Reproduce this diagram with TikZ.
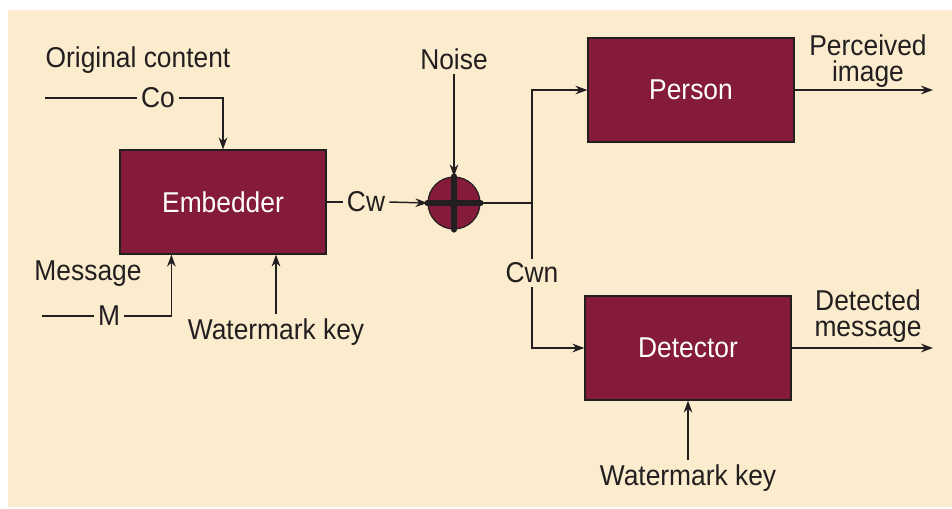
\documentclass[tikz,border=0pt]{standalone}
\usepackage{fontspec}
\setmainfont{Liberation Sans}[FakeStretch=0.92]
\usetikzlibrary{arrows.meta,positioning}
\definecolor{paperbeige}{RGB}{251,236,206}
\definecolor{boxmaroon}{RGB}{133,27,58}
\definecolor{inkdark}{RGB}{35,31,32}

\begin{document}
\begin{tikzpicture}[x=0.75pt, y=-0.75pt,
  blockbox/.style={draw=inkdark, line width=0.9pt, fill=boxmaroon, text=white,
    minimum width=154.5pt, minimum height=78pt, inner sep=0pt,
    font=\fontsize{21.5}{20}\selectfont},
  lbl/.style={text=inkdark, inner sep=3pt, font=\fontsize{21.5}{20}\selectfont},
  wire/.style={draw=inkdark, line width=1.1pt},
  feed/.style={wire, -{Stealth[length=9pt,width=6.5pt]}}]
% background
\fill[white] (0,0) rectangle (952,508);
\fill[paperbeige] (8,10) rectangle (952,507);
% blocks
\node[blockbox] (embedder) at (223,202) {Embedder};
\node[blockbox] (person) at (691,90) {Person};
\node[blockbox] (detector) at (688,348) {Detector};
\node[circle, draw=inkdark, line width=0.9pt, fill=boxmaroon, minimum size=39pt, inner sep=0pt] (adder) at (454,203) {};
\draw[inkdark, line width=4.5pt, line cap=round] (adder.north) -- (adder.south);
\draw[inkdark, line width=4.5pt, line cap=round] (adder.west) -- (adder.east);
% inputs of the embedder
\node[lbl] (orig) at (138,60) {Original content};
\node[lbl] (co) at (158,98) {Co};
\coordinate (coin) at (45,98);
\draw[wire] (coin) -- (co.west);
\draw[feed] (co.east) -| (embedder.north);
\node[lbl] (msg) at (88,274) {Message};
\node[lbl] (m) at (109,316) {M};
\coordinate (min) at (42,316);
\draw[wire] (min) -- (m.west);
\draw[feed] (m.east) -| ([xshift=39pt]embedder.south west);
\node[lbl] (wkeyA) at (276,332) {Watermark key};
\draw[feed] (wkeyA.north) -- (wkeyA.north |- embedder.south);
% channel
\node[lbl] (cw) at (366,202) {Cw};
\draw[wire] (embedder.east) -- (cw.west);
\draw[feed] (cw.east) -- (adder.west);
\node[lbl] (noise) at (454,59) {Noise};
\draw[feed] (noise.south) -- (adder.north);
\coordinate (split) at (532,203);
\draw[wire] (adder.east) -- (split);
\draw[feed] (split) |- (person.west);
\node[lbl] (cwn) at (532,273) {Cwn};
\draw[wire] (split) -- (cwn.north);
\draw[feed] (cwn.south) |- (detector.west);
% outputs
\node[lbl, align=center] (perc) at (868,61) {Perceived\\image};
\coordinate (percout) at (933,90);
\draw[feed] (person.east) -- (percout);
\node[lbl, align=center] (detmsg) at (868,316) {Detected\\message};
\coordinate (detout) at (933,348);
\draw[feed] (detector.east) -- (detout);
\node[lbl] (wkeyB) at (688,478) {Watermark key};
\draw[feed] (wkeyB.north) -- (wkeyB.north |- detector.south);
\end{tikzpicture}
\end{document}
